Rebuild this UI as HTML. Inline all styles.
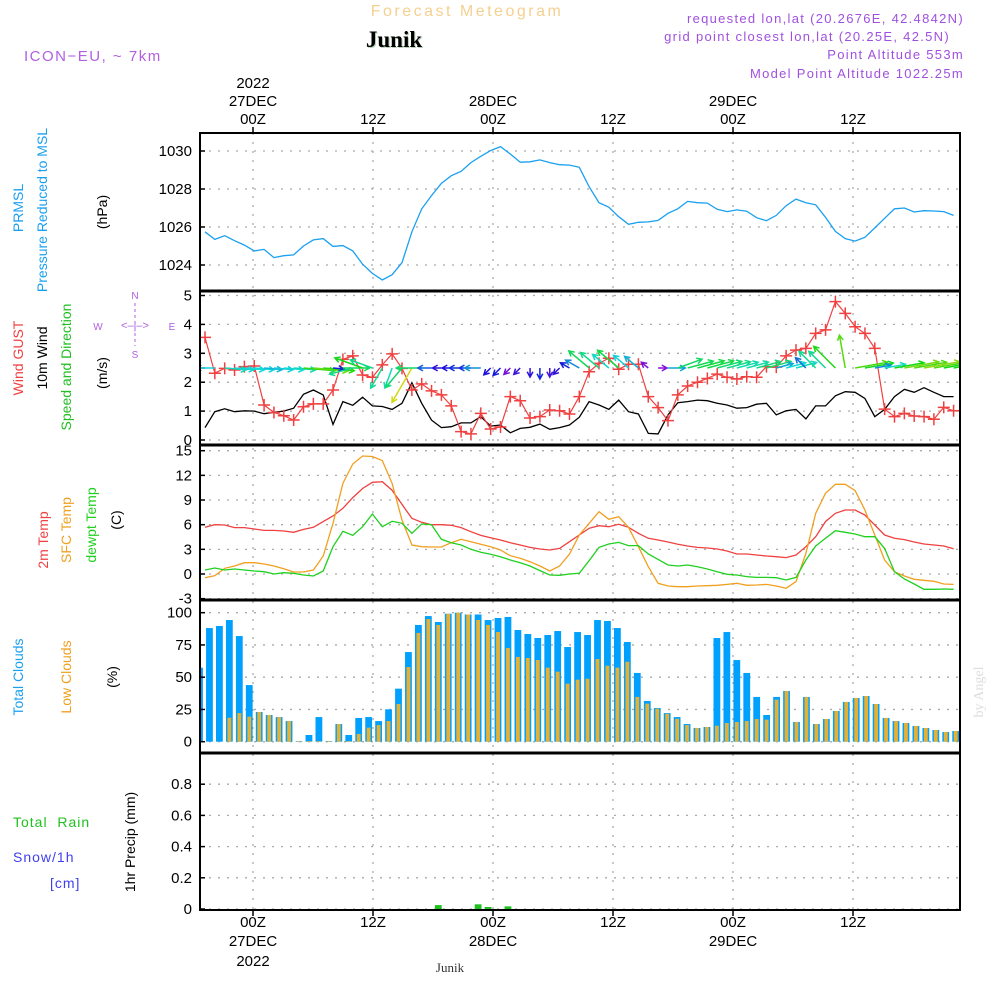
<!DOCTYPE html>
<html><head><meta charset="utf-8"><style>
html,body{margin:0;padding:0;background:#fff;}
svg{display:block;font-family:"Liberation Sans",sans-serif;}
</style></head><body>
<svg id="chart" width="1000" height="1000" viewBox="0 0 1000 1000" xmlns="http://www.w3.org/2000/svg">
<rect width="1000" height="1000" fill="#fff"/>
<text x="467" y="16" text-anchor="middle" font-size="16" fill="#f5d090" letter-spacing="2.5">Forecast Meteogram</text>
<text x="395" y="48" text-anchor="middle" font-size="23" font-weight="bold" font-family="Liberation Serif,serif" fill="#b8d0b8">Junik</text>
<text x="394" y="47" text-anchor="middle" font-size="23" font-weight="bold" font-family="Liberation Serif,serif" fill="#000">Junik</text>
<text x="24" y="61" font-size="15" fill="#b060e0" letter-spacing="1.5">ICON−EU, ~ 7km</text>
<g font-size="13" fill="#a050e0" text-anchor="end" letter-spacing="1.3">
<text x="964" y="23">requested lon,lat (20.2676E, 42.4842N)</text>
<text x="950" y="41">grid point closest lon,lat (20.25E, 42.5N)</text>
<text x="964" y="59">Point Altitude 553m</text>
<text x="964" y="78">Model Point Altitude 1022.25m</text>
</g>
<g id="grid"></g>
<g id="marks"></g>
<g id="frame"></g>
<g id="labels" font-size="15" fill="#000"></g>
<g font-size="14">
<text transform="translate(23,208) rotate(-90)" text-anchor="middle" fill="#1aa0f0">PRMSL</text>
<text transform="translate(47,210) rotate(-90)" text-anchor="middle" fill="#1aa0f0">Pressure Reduced to MSL</text>
<text transform="translate(107,212) rotate(-90)" text-anchor="middle" fill="#000">(hPa)</text>
<text transform="translate(23,358) rotate(-90)" text-anchor="middle" fill="#f04040">Wind GUST</text>
<text transform="translate(47,358) rotate(-90)" text-anchor="middle" fill="#000">10m Wind</text>
<text transform="translate(71,367) rotate(-90)" text-anchor="middle" fill="#20c020">Speed and Direction</text>
<text transform="translate(107,373) rotate(-90)" text-anchor="middle" fill="#000">(m/s)</text>
<text transform="translate(48,540) rotate(-90)" text-anchor="middle" fill="#f04040">2m Temp</text>
<text transform="translate(71,530) rotate(-90)" text-anchor="middle" fill="#f0a020">SFC Temp</text>
<text transform="translate(96,525) rotate(-90)" text-anchor="middle" fill="#20d020">dewpt Temp</text>
<text transform="translate(121,520) rotate(-90)" text-anchor="middle" fill="#000">(C)</text>
<text transform="translate(23,677) rotate(-90)" text-anchor="middle" fill="#1aa0f0">Total Clouds</text>
<text transform="translate(71,677) rotate(-90)" text-anchor="middle" fill="#f0a020">Low Clouds</text>
<text transform="translate(117,677) rotate(-90)" text-anchor="middle" fill="#000">(%)</text>
<text transform="translate(135,842) rotate(-90)" text-anchor="middle" fill="#000">1hr Precip (mm)</text>
<text x="13" y="827" fill="#20c020" letter-spacing="1" xml:space="preserve">Total  Rain</text>
<text x="13" y="862" fill="#4040f0" letter-spacing="1">Snow/1h</text>
<text x="50" y="888" fill="#4040f0" letter-spacing="1">[cm]</text>
</g>
<g fill="#b060e0" font-size="10" text-anchor="middle">
<text x="135" y="299">N</text><text x="135" y="358">S</text><text x="98" y="330">W</text><text x="172" y="330">E</text>
<text x="135" y="329" font-size="11">&lt;–|–&gt;</text>
<line x1="135" y1="303" x2="135" y2="346" stroke="#b060e0" stroke-dasharray="3,3"/>
</g>
<text x="450" y="972" text-anchor="middle" font-size="13" font-family="Liberation Serif,serif" fill="#333">Junik</text>
<text transform="translate(983,692) rotate(-90)" text-anchor="middle" font-size="14" font-family="Liberation Serif,serif" fill="#ddd">by Angel</text>
<script>
const pressure=[1025.75,1025.35,1025.54,1025.28,1025.05,1024.74,1024.82,1024.39,1024.49,1024.53,1025.0,1025.32,1025.39,1024.98,1025.02,1024.74,1024.04,1023.56,1023.21,1023.49,1024.12,1025.75,1026.95,1027.65,1028.3,1028.7,1028.93,1029.39,1029.72,1030.02,1030.23,1029.84,1029.41,1029.43,1029.53,1029.39,1029.28,1029.26,1029.14,1028.12,1027.28,1027.04,1026.54,1026.14,1026.25,1026.27,1026.35,1026.72,1026.96,1027.35,1027.28,1027.26,1026.93,1026.81,1026.9,1026.83,1026.49,1026.33,1026.61,1027.12,1027.47,1027.28,1027.17,1026.51,1025.77,1025.39,1025.26,1025.46,1025.95,1026.46,1026.96,1027.0,1026.79,1026.86,1026.84,1026.81,1026.61];
const wind10m=[0.43,0.98,1.08,0.98,1.01,1.0,0.91,0.96,1.0,1.10,1.58,1.73,1.56,0.54,1.33,1.2,1.48,1.18,1.16,1.06,1.27,1.98,1.27,0.69,0.43,0.46,0.59,0.59,0.81,0.48,0.52,0.25,0.40,0.44,0.55,0.37,0.43,0.52,0.79,1.33,1.21,1.06,1.38,0.98,0.9,0.23,0.21,0.87,1.29,1.33,1.38,1.36,1.27,1.21,1.10,1.12,1.24,1.27,0.87,1.01,1.06,0.73,1.18,1.18,1.53,1.67,1.65,1.44,0.81,1.06,1.5,1.75,1.65,1.81,1.65,1.5,1.5];
const windGust=[3.55,2.31,2.48,2.42,2.54,2.56,1.21,0.95,0.84,0.69,1.15,1.25,1.25,1.73,2.79,2.91,2.25,2.17,2.6,2.98,2.48,1.73,1.94,1.7,1.56,1.18,0.29,0.21,0.92,0.38,0.45,1.5,1.36,0.76,0.81,1.04,1.01,0.9,1.5,2.36,2.65,2.83,2.45,2.62,2.62,1.5,1.12,0.67,1.56,1.87,2.0,2.13,2.28,2.17,2.11,2.19,2.17,2.54,2.52,2.91,3.11,3.17,3.69,3.81,4.79,4.38,3.92,3.69,3.17,1.07,0.81,0.92,0.83,0.81,0.72,1.13,1.01];
const windDir=[180,180,5,5,5,5,5,5,5,5,5,5,5,5,0,165,-160,-160,120,110,130,120,180,180,180,180,180,180,180,135,135,135,135,90,90,90,135,-150,-150,-140,-140,-140,-140,-140,-140,-140,0,0,-20,-15,-15,-15,-15,-15,-15,-15,-15,-15,-15,-15,-15,-135,-135,-135,-135,-100,-10,-10,-10,-10,-10,-10,-10,-10,-10,-10,-10];
const temp2m=[5.68,6.0,5.96,5.64,5.64,5.47,5.31,5.31,5.23,5.07,5.43,5.68,6.37,7.06,7.99,9.29,10.4,11.15,11.23,10.2,8.47,6.77,6.29,6.0,6.0,5.92,5.64,5.15,4.7,4.42,4.14,3.81,3.53,3.24,3.04,2.92,3.12,3.93,4.74,5.56,5.88,5.76,6.05,5.68,4.95,4.34,4.14,3.89,3.61,3.41,3.24,3.16,3.04,2.8,2.43,2.43,2.31,2.19,2.11,1.99,2.31,3.32,4.54,6.37,7.38,7.79,7.79,7.18,5.96,4.74,4.34,4.18,3.89,3.65,3.53,3.41,3.08];
const sfcTemp=[-0.45,-0.2,0.69,0.97,1.38,1.38,1.22,0.97,0.65,0.24,0.24,0.49,2.19,6.16,11.03,13.38,14.36,14.3,13.79,11.03,6.57,3.53,3.32,3.28,3.28,3.81,4.22,3.93,3.61,3.32,2.92,2.23,1.91,1.5,0.97,0.36,0.97,2.43,4.74,6.16,7.58,6.65,6.97,5.68,3.32,0.89,-1.13,-1.46,-1.54,-1.54,-1.46,-1.42,-1.38,-1.26,-1.13,-1.38,-1.34,-1.26,-1.46,-1.74,-0.93,2.51,7.38,9.82,10.91,10.91,10.14,7.79,4.74,1.7,0.28,-0.24,-0.65,-0.77,-0.89,-1.22,-1.26];
const dewpt=[0.49,0.73,0.49,0.61,0.49,0.36,0.28,0,0.16,0.08,-0.12,-0.24,0.36,3.32,5.19,4.7,5.76,7.3,5.76,6.41,6.17,4.95,6.08,6.0,4.22,3.81,3.53,3.0,2.64,2.4,2.11,1.7,1.38,0.97,0.41,-0.12,-0.16,0,0.08,1.62,3.24,3.65,3.85,3.45,3.45,2.43,1.78,1.09,0.97,1.09,0.89,0.61,0.28,-0.04,-0.12,-0.32,-0.41,-0.41,-0.45,-0.73,-0.41,1.7,3.41,4.34,5.27,5.07,4.87,4.54,4.54,3.12,0.28,-0.61,-1.22,-1.86,-1.86,-1.82,-1.86];
const totalClouds=[57.4,88.1,89.7,94.3,81.9,43.9,23.0,20.7,19.1,16,0.5,5.2,19.1,0.5,13.7,5.2,18.4,19.1,16,25.1,41.1,69.5,90.5,97.4,92.8,99.2,100,98.6,98.6,94.3,95.9,96.7,86.6,83.5,80.4,82.7,85.8,73.4,85,82.7,94.3,93.6,88.1,77.3,53.3,31.6,26.1,22.2,19.1,13.7,10.6,11.4,80.4,85,63.3,53.3,34.7,20.7,34.7,39.3,15.3,34.7,13.7,17.6,23.8,30.8,33.9,35.4,29.2,18.4,16,14.5,12.2,10.6,9.1,7.5,8.3];
const lowClouds=[0,0,0,18.6,22.2,19.4,23.0,20.7,19.1,16,0.5,0.5,0.5,0.5,13.7,0.5,6.0,10.9,12.9,16,29.2,57.9,84.3,95.1,90.5,99,100,98.6,94.3,90.5,85,72.6,65.7,64.9,63.3,57.4,54.3,45,48.1,48.8,64.1,58.9,57.4,62,34.7,29.5,25.6,21.7,17.8,12.9,10.6,11.4,12.4,14.5,15.3,16,17.6,17.1,32.6,39.3,15.3,34.7,13.7,17.6,23.8,30.8,33.9,35.4,29.2,18.4,16,14.5,12.2,10.6,9.1,7.5,8.3];
const precipIdx=[24,28,29,31];
const precipVals=[0.025,0.03,0.013,0.017];
const pTicks=[1024,1026,1028,1030];
const wTicks=[0,1,2,3,4,5];
const tTicks=[-3,0,3,6,9,12,15];
const cTicks=[0,25,50,75,100];
const rTicks=[0,0.2,0.4,0.6,0.8];
const timeTicks=[0,12,24,36,48,60];
const topLabels=[["2022","27DEC","00Z"],["","","12Z"],["","28DEC","00Z"],["","","12Z"],["","29DEC","00Z"],["","","12Z"]];
const botLabels=[["00Z","27DEC","2022"],["12Z","",""],["00Z","28DEC",""],["12Z","",""],["00Z","29DEC",""],["12Z","",""]];

const NS="http://www.w3.org/2000/svg";
const L=200,R=960;
const P={p:[133,291],w:[291,445],t:[445,600],c:[600,753],r:[753,910]};
const xK=k=>205+k*9.85;
const xB=j=>199.5+j*9.95;
const xT=h=>253+h*10;
const yP=v=>151+(1030-v)*19;
const yW=v=>440-v*28.9;
const yT=v=>574-v*8.22;
const yC=v=>741.7-v*1.29;
const yR=v=>909-v*156;
function el(tag,attrs,parent){const e=document.createElementNS(NS,tag);for(const a in attrs)e.setAttribute(a,attrs[a]);parent.appendChild(e);return e;}
const grid=document.getElementById('grid'),marks=document.getElementById('marks'),frame=document.getElementById('frame'),labels=document.getElementById('labels');
const defs=el('defs',{},marks);
for(const key in P){const cp=el('clipPath',{id:'clip-'+key},defs);el('rect',{x:L,y:P[key][0],width:R-L,height:P[key][1]-P[key][0]},cp);}
function hgrid(ticks,f,name,fmt){ticks.forEach(v=>{const y=f(v);
 const g=el('line',{x1:L,x2:R,y1:y,y2:y,stroke:'#aaa','stroke-width':1.3,'stroke-dasharray':'2,7'},grid);
 
 
 el('line',{x1:L,x2:L+5,y1:y,y2:y,stroke:'#000','stroke-width':1.5},frame);
 const t=el('text',{x:192,y:y+5,'text-anchor':'end'},labels);t.textContent=fmt?fmt(v):v;
 
 });}
hgrid(pTicks,yP,'pressure');hgrid(wTicks,yW,'wind');hgrid(tTicks,yT,'temp');hgrid(cTicks,yC,'cloud');hgrid(rTicks,yR,'precip',v=>v===0?'0':v.toFixed(1));
timeTicks.forEach((h,i)=>{const x=xT(h);
 const g=el('line',{x1:x,x2:x,y1:133,y2:910,stroke:'#aaa','stroke-width':1.3,'stroke-dasharray':'2,7'},grid);
 
 
 el('line',{x1:x,x2:x,y1:127,y2:133,stroke:'#000','stroke-width':1.5},frame);
 el('line',{x1:x,x2:x,y1:910,y2:916,stroke:'#000','stroke-width':1.5},frame);
 [88,106,124].forEach((y,r)=>{if(topLabels[i][r]){const t=el('text',{x:x,y:y,'text-anchor':'middle'},labels);t.textContent=topLabels[i][r];
  
  }});
 [927,946,966].forEach((y,r)=>{if(botLabels[i][r]){const t=el('text',{x:x,y:y,'text-anchor':'middle'},labels);t.textContent=botLabels[i][r];
  
  }});
});
el('rect',{x:L,y:133,width:R-L,height:777,fill:'none',stroke:'#000','stroke-width':2},frame);
[291,445,600,753].forEach(y=>el('line',{x1:L,x2:R,y1:y,y2:y,stroke:'#000','stroke-width':3},frame));
function poly(vals,fx,fy,color,name,clip,w){const pts=vals.map((v,i)=>fx(i).toFixed(1)+','+fy(v).toFixed(1)).join(' ');
 const p=el('polyline',{points:pts,fill:'none',stroke:color,'stroke-width':w||1.3,'clip-path':'url(#clip-'+clip+')'},marks);
 
 return p;}
poly(pressure,xK,yP,'#1aa0f0','pressure-line','p');
poly(wind10m,xK,yW,'#000','wind-10m-line','w');
poly(windGust,xK,yW,'#f04040','wind-gust-line','w',1.2);
windGust.forEach((v,i)=>{const x=xK(i),y=yW(v);
 const m=el('path',{d:`M${x-6},${y}H${x+6}M${x},${y-6}V${y+6}`,stroke:'#f04040','stroke-width':1.5,'clip-path':'url(#clip-w)'},marks);
 
 });
windDir.forEach((d,i)=>{const s=wind10m[i];const hue=Math.max(60,Math.min(275,300-s*120));
 const col=`hsl(${hue},85%,46%)`;const len=Math.max(9,s*20);const a=d*Math.PI/180;
 const x0=xK(i),y0=368;const x1=x0+Math.cos(a)*len,y1=y0+Math.sin(a)*len;
 const hx1=x1-Math.cos(a-0.5)*6,hy1=y1-Math.sin(a-0.5)*6,hx2=x1-Math.cos(a+0.5)*6,hy2=y1-Math.sin(a+0.5)*6;
 const ar=el('path',{d:`M${x0},${y0}L${x1},${y1}M${hx1},${hy1}L${x1},${y1}L${hx2},${hy2}`,stroke:col,'stroke-width':1.5,fill:'none','clip-path':'url(#clip-w)'},marks);
 
 });
poly(temp2m,xK,yT,'#f04040','temp-2m-line','t');
poly(sfcTemp,xK,yT,'#f0a020','sfc-temp-line','t');
poly(dewpt,xK,yT,'#20d020','dewpoint-line','t');
totalClouds.forEach((v,j)=>{const x=xB(j);
 const b=el('rect',{x:x-3.4,y:yC(v),width:6.8,height:yC(0)-yC(v),fill:'#00a0ff','clip-path':'url(#clip-c)'},marks);
 
 
 const lv=lowClouds[j];
 const o=el('rect',{x:x-1.9,y:yC(lv),width:3.8,height:yC(0)-yC(lv),fill:'#e8b030','clip-path':'url(#clip-c)'},marks);
 
 });
precipIdx.forEach((j,i)=>{const x=xB(j),v=precipVals[i];
 const b=el('rect',{x:x-3.4,y:yR(v),width:6.8,height:yR(0)-yR(v),fill:'#20c020'},marks);
 
 });
</script>
</svg>
</body></html>
